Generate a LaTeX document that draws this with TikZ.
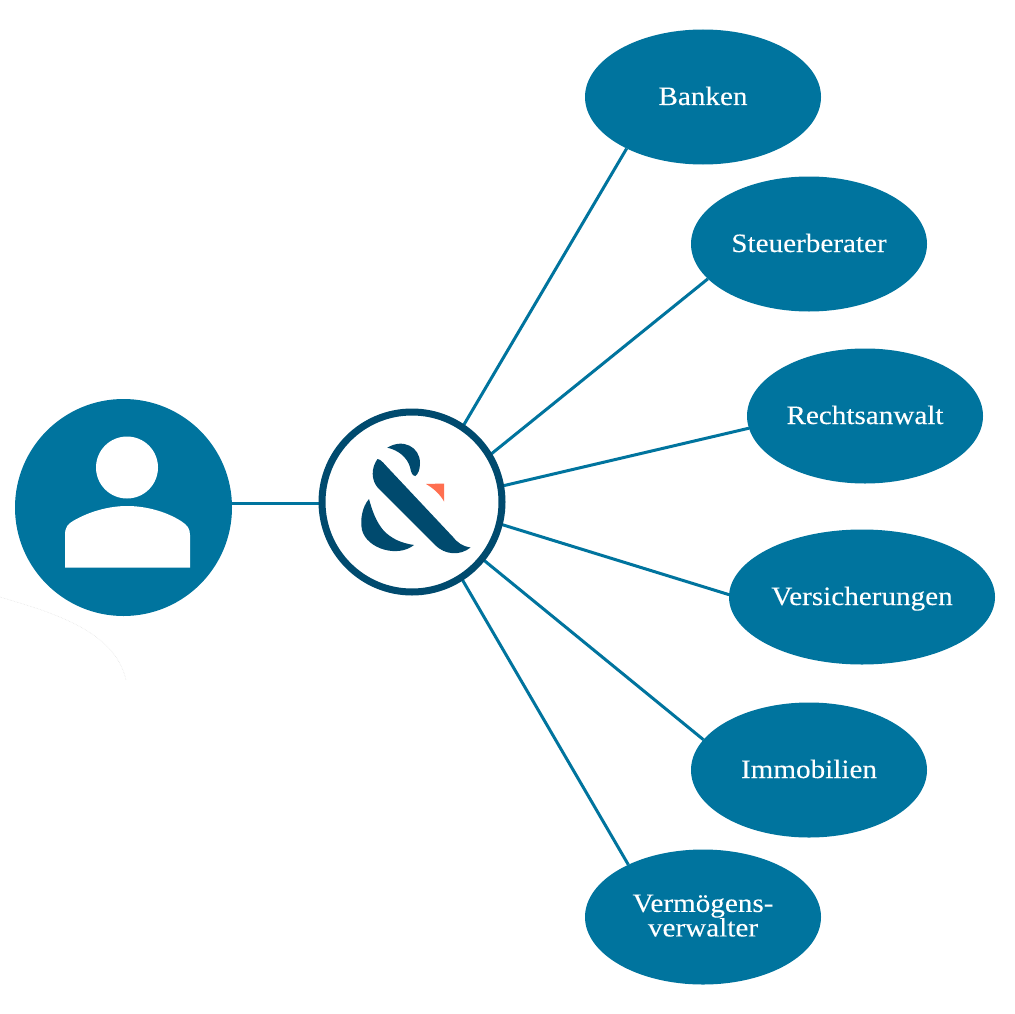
\documentclass[tikz,border=0pt]{standalone}
\usepackage{fontspec}
\setmainfont[FakeStretch=1.10,FakeBold=0.12]{Liberation Serif}
\usetikzlibrary{shapes.geometric}
\definecolor{teal1}{HTML}{00749E}
\definecolor{navy1}{HTML}{004A6E}
\definecolor{coral1}{HTML}{FF6F50}
\pgfdeclarelayer{edges}
\pgfsetlayers{edges,main}
\tikzset{
  oval/.style={shape=ellipse,fill=teal1,text=white,minimum width=236pt,minimum height=135pt,inner sep=0pt,outer sep=0pt,font=\fontsize{26.5}{24.5}\selectfont,align=center},
  oneline/.style={text height=16pt,text depth=0pt},
  link/.style={draw=teal1,line width=3pt},
}
\begin{document}
\begin{tikzpicture}[x=1pt,y=-1pt]
\useasboundingbox (0,0) rectangle (1014,1014);
\node[shape=circle,fill=teal1,minimum size=217pt,inner sep=0pt,outer sep=0pt] (person) at (123.5,507.5) {};
\node[shape=circle,draw=navy1,fill=white,line width=7pt,minimum size=180pt,inner sep=0pt,outer sep=0pt] (hub) at (412,502) {};
\node[oval,oneline] (banken) at (703,97) {Banken};
\node[oval,oneline] (steuer) at (809,244) {Steuerberater};
\node[oval,oneline] (recht) at (865,416) {Rechtsanwalt};
\node[oval,oneline,minimum width=266pt] (vers) at (862,597) {Versicherungen};
\node[oval,oneline] (immo) at (809,770) {Immobilien};
\node[oval,text depth=3pt] (verm) at (703,917) {Vermögens-\\verwalter};
\coordinate (pright) at (232,503);
\coordinate (hleft) at (320,503);
\begin{pgfonlayer}{edges}
\fill[white] (0,0) rectangle (1014,1014);
\draw[draw=black!12,line width=.5pt,densely dotted] (0,597) .. controls (50,612) and (115,630) .. (126,680);
\draw[link] (pright) -- (hleft);
\draw[link] (hub.56.8) -- (banken.214.7);
\draw[link] (hub.31.5) -- (steuer.199.3);
\draw[link] (hub.10.4) -- (recht.186.4);
\draw[link] (hub.-14.9) -- (vers.179.6);
\draw[link] (hub.-39.6) -- (immo.164);
\draw[link] (hub.-57.3) -- (verm.145.8);
\end{pgfonlayer}
% person icon
\fill[white] (127,467.5) circle (31pt);
\fill[white] (65,567.5) -- (65,535) .. controls (65,527) and (68,524) .. (73,521)
  .. controls (90,511) and (110,506) .. (127,506)
  .. controls (145,506) and (165,511) .. (181,521)
  .. controls (187,525) and (190,528) .. (190,535) -- (190,567.5) -- cycle;
% logo
\fill[navy1] (387.3,447.7) .. controls (403,438) and (420,447) .. (420,463)
  .. controls (420,470) and (418,474) .. (415.5,476)
  .. controls (412,476) and (411,472) .. (410,467)
  .. controls (407,457) and (398,450) .. (387.3,447.7) -- cycle;
\fill[navy1] (377.5,459) .. controls (371,468) and (371,480) .. (378,488)
  -- (435,545) .. controls (445,555) and (460,556) .. (470.5,547.5)
  .. controls (462,546) and (458,543) .. (453,537)
  -- (390,470) .. controls (385,465) and (381,459) .. (377.5,459) -- cycle;
\fill[navy1] (369,499) .. controls (362,507) and (360,520) .. (362,530)
  .. controls (367,549) and (398,558) .. (414,545)
  .. controls (400,543) and (391,538) .. (384,531)
  .. controls (376,522) and (372,510) .. (369,499) -- cycle;
\fill[coral1] (426,484) -- (444,483.5) -- (444,501.5) .. controls (440,494) and (433,488) .. (426,484) -- cycle;
\end{tikzpicture}
\end{document}
